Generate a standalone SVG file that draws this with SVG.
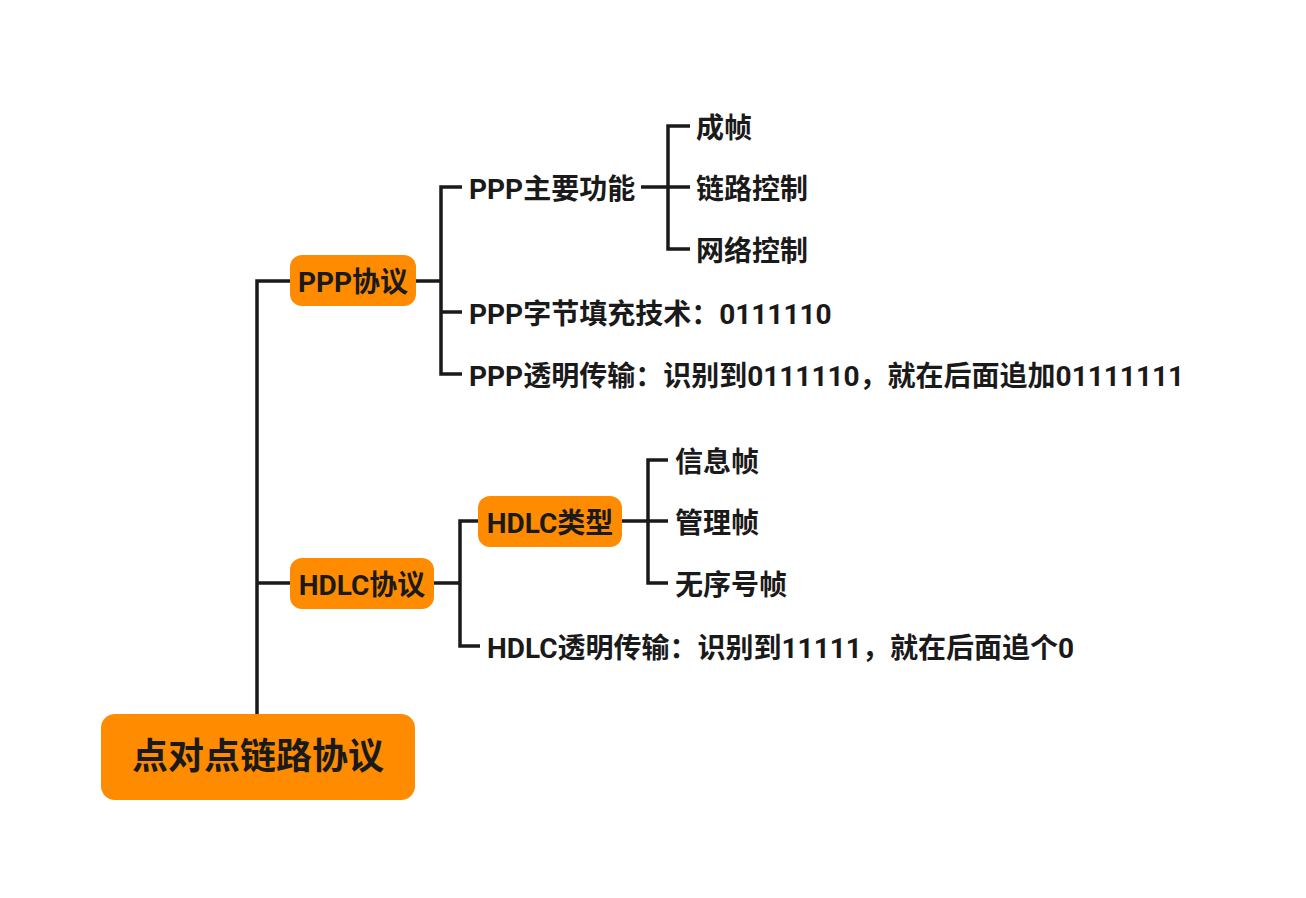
<svg xmlns="http://www.w3.org/2000/svg" width="1306" height="898" viewBox="0 0 1306 898">
<style>
text{font-family:Roboto,"Noto Sans CJK SC",sans-serif;font-weight:bold;fill:#1a1a1a;dominant-baseline:central}
.box{fill:#ff8c00}
.t{font-size:28px}
.c{stroke:#1a1a1a;stroke-width:3.5;fill:none;stroke-linejoin:miter;stroke-linecap:butt}
</style>
<rect width="1306" height="898" fill="#ffffff"/>
<g id="connectors" class="c">
<path d="M290,281 H257 V714 M257,583 H290"/>
<path d="M416,281 H441 M462,187 H441 V374 H462 M441,312 H462"/>
<path d="M641,187 H668 M690,126 H668 V249 H690 M668,187 H690"/>
<path d="M434,583 H460 M478,521 H460 V646 H480"/>
<path d="M622,521 H648 M668,460 H648 V583 H668 M648,521 H668"/>
</g>
<g id="root"><rect class="box" x="101" y="714" width="314" height="86" rx="14"/><text x="258" y="757" font-size="36" text-anchor="middle">点对点链路协议</text></g>
<g id="ppp"><rect class="box" x="290" y="255" width="126" height="51" rx="12"/><text class="t" x="353" y="282" text-anchor="middle">PPP协议</text></g>
<g id="ppp-func"><text class="t" x="469" y="189">PPP主要功能</text></g>
<g id="ppp-f1"><text class="t" x="696" y="128">成帧</text></g>
<g id="ppp-f2"><text class="t" x="696" y="189">链路控制</text></g>
<g id="ppp-f3"><text class="t" x="696" y="251">网络控制</text></g>
<g id="ppp-stuff"><text class="t" x="469" y="314">PPP字节填充技术：0111110</text></g>
<g id="ppp-trans"><text class="t" x="469" y="376">PPP透明传输：识别到0111110，就在后面追加01111111</text></g>
<g id="hdlc"><rect class="box" x="290" y="558" width="144" height="51" rx="12"/><text class="t" x="362" y="585" text-anchor="middle">HDLC协议</text></g>
<g id="hdlc-type"><rect class="box" x="478" y="496" width="144" height="51" rx="12"/><text class="t" x="550" y="523" text-anchor="middle">HDLC类型</text></g>
<g id="hdlc-t1"><text class="t" x="675" y="462">信息帧</text></g>
<g id="hdlc-t2"><text class="t" x="675" y="523">管理帧</text></g>
<g id="hdlc-t3"><text class="t" x="675" y="585">无序号帧</text></g>
<g id="hdlc-trans"><text class="t" x="487" y="648">HDLC透明传输：识别到11111，就在后面追个0</text></g>
</svg>
